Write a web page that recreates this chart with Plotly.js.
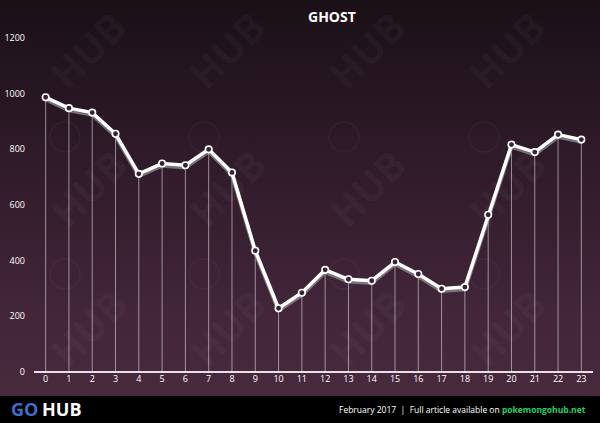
<!DOCTYPE html>
<html><head><meta charset="utf-8">
<script src="https://cdn.plot.ly/plotly-3.0.1.min.js"></script>
<style>
html,body{margin:0;padding:0;background:#000;}
#chart{width:600px;height:423px;background:linear-gradient(to bottom,#1a1016 0%,#2e1a28 35%,#43263a 75%,#4a2b3e 100%);}
</style></head><body>
<div id="chart"></div>
<script>
const hours = [0,1,2,3,4,5,6,7,8,9,10,11,12,13,14,15,16,17,18,19,20,21,22,23];
const counts = [987,948,932,856,712,749,743,800,717,436,229,285,367,333,328,395,352,299,305,565,817,790,853,835];
const yTicks = [0,200,400,600,800,1000,1200];
const chartTitle = "GHOST";
const footerLeft = "February 2017  |  Full article available on ";
const footerLink = "pokemongohub.net";

const drops = {
  x: hours, y: counts, type:'scatter', mode:'none', hoverinfo:'skip', showlegend:false,
  error_y:{type:'data', symmetric:false, array:hours.map(()=>0), arrayminus:counts, width:0, thickness:1, color:'rgba(255,255,255,0.5)'}
};
const shadow = {
  x: hours, y: counts.map(v=>v-8), type:'scatter', mode:'lines', hoverinfo:'skip', showlegend:false,
  line:{color:'rgba(150,150,150,0.7)', width:4}
};
const main = {
  x: hours, y: counts, type:'scatter', mode:'lines+markers', showlegend:false,
  line:{color:'#ffffff', width:3.5},
  marker:{size:6.5, color:'#3a2232', line:{color:'#ffffff', width:1.6}}
};

const annotations = [];
const shapes = [];
const wmX = [88,227,367,507], wmY = [50,187,327];
wmY.forEach(yy=>wmX.forEach(xx=>{
  annotations.push({xref:'paper', yref:'paper', x:(xx-34)/559, y:(372-yy)/334, xanchor:'center', yanchor:'middle', text:'<b>HUB</b>', showarrow:false, textangle:-45,
    font:{family:'Open Sans', size:40, color:'rgba(255,255,255,0.035)'}});
  shapes.push({type:'circle', xref:'paper', yref:'paper', x0:(xx-72)/559, x1:(xx-42)/559, y0:(372-(yy+102))/334, y1:(372-(yy+72))/334,
    line:{color:'rgba(255,255,255,0.035)', width:1.5}, fillcolor:'rgba(0,0,0,0)', layer:'below'});
}));
// footer
shapes.push({type:'rect', xref:'paper', yref:'paper', x0:-0.1, x1:1.1, y0:(372-423)/334, y1:(372-396)/334, fillcolor:'#000000', line:{width:0}, layer:'above'});
annotations.push({xref:'paper', yref:'paper', x:(588-34)/559, y:(372-409)/334, xanchor:'right', yanchor:'middle', showarrow:false,
  text: footerLeft+'<b><span style="color:#22d06a">'+footerLink+'</span></b>',
  font:{family:'Open Sans', size:8.5, color:'#ffffff'}});
annotations.push({xref:'paper', yref:'paper', x:(24-34)/559, y:(372-409)/334, xanchor:'center', yanchor:'middle', showarrow:false,
  text:'<b>GO</b>', font:{family:'Open Sans', size:18, color:'#3f6ec8'}});
annotations.push({xref:'paper', yref:'paper', x:(40-34)/559, y:(372-409)/334, xanchor:'left', yanchor:'middle', showarrow:false,
  text:'<b>HUB</b>', font:{family:'Open Sans', size:18, color:'#ffffff'}});
// title
annotations.push({xref:'paper', yref:'paper', x:(332-34)/559, y:(372-16)/334, xanchor:'center', yanchor:'middle', showarrow:false,
  text:'<b>'+chartTitle+'</b>', font:{family:'Open Sans', size:14, color:'#ffffff'}});

const layout = {
  width:600, height:423,
  margin:{l:34, r:7, t:38, b:51},
  paper_bgcolor:'rgba(0,0,0,0)', plot_bgcolor:'rgba(0,0,0,0)',
  xaxis:{range:[-0.5,23.5], tickvals:hours, ticktext:hours.map(String), showgrid:false, zeroline:false,
    showline:false, ticks:'', tickfont:{family:'Open Sans', size:9, color:'#ffffff'}, fixedrange:true},
  yaxis:{range:[0,1200], tickvals:yTicks, ticktext:yTicks.map(String), showgrid:false, zeroline:true, zerolinecolor:'#e8e0e4', zerolinewidth:1.5,
    showline:false, ticks:'', ticklabelstandoff:8, tickfont:{family:'Open Sans', size:9, color:'#ffffff'}, fixedrange:true},
  annotations, shapes
};
Plotly.newPlot('chart', [drops, shadow, main], layout, {displayModeBar:false, staticPlot:true});
</script>
</body></html>
